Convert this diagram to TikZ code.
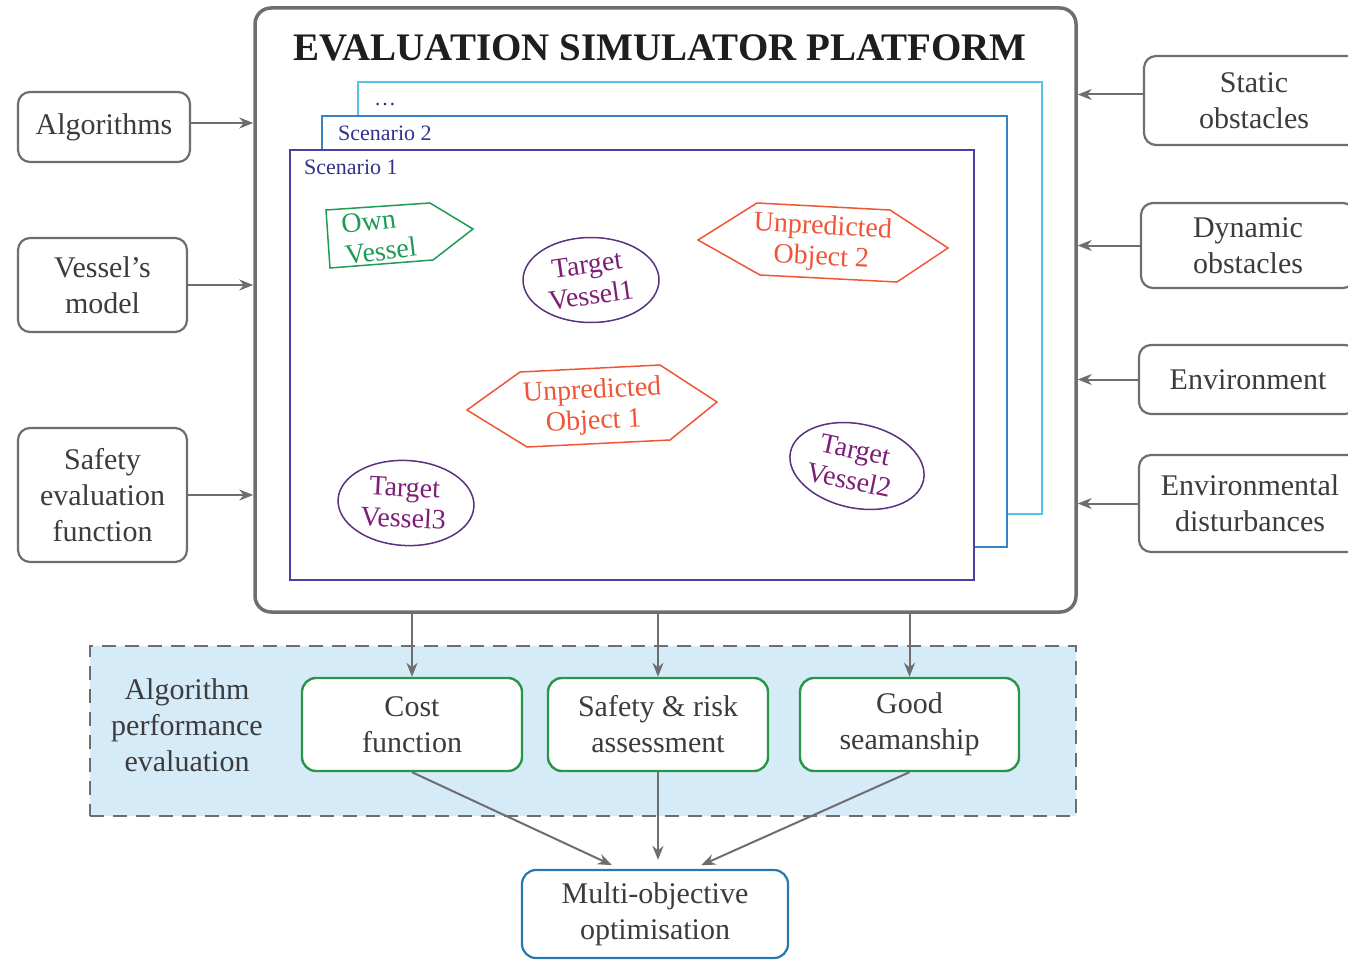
\documentclass[tikz,border=0pt]{standalone}
\usepackage{fontspec}
\setmainfont{Liberation Serif}
\usetikzlibrary{arrows.meta,shapes.geometric,calc}
\definecolor{bgray}{RGB}{110,110,110}
\definecolor{tgray}{RGB}{60,60,60}
\definecolor{scA}{RGB}{75,65,165}
\definecolor{scB}{RGB}{55,130,195}
\definecolor{scC}{RGB}{85,195,230}
\definecolor{labc}{RGB}{50,50,140}
\definecolor{gbox}{RGB}{40,150,70}
\definecolor{ownc}{RGB}{30,155,85}
\definecolor{redc}{RGB}{240,85,55}
\definecolor{purb}{RGB}{90,50,125}
\definecolor{purt}{RGB}{125,30,120}
\definecolor{lblue}{RGB}{214,235,248}
\definecolor{mbox}{RGB}{40,120,175}
\definecolor{titc}{RGB}{30,30,30}
\tikzset{
  txt/.style={font=\fontsize{30}{36}\selectfont, text=tgray, align=center},
  sidebox/.style={txt, draw=bgray, line width=2.2pt, rounded corners=12pt, fill=white, inner sep=0pt},
  greenbox/.style={txt, draw=gbox, line width=2.4pt, rounded corners=14pt, fill=white, inner sep=0pt},
  platbox/.style={draw=bgray, line width=3.5pt, rounded corners=16pt, fill=white, inner sep=0pt},
  scen/.style={line width=1.6pt, fill=white, inner sep=0pt},
  scenlab/.style={font=\fontsize{22}{24}\selectfont, text=labc, anchor=base west, inner sep=0pt},
  inner/.style={font=\fontsize{28}{31}\selectfont, inner sep=0pt},
  tell/.style={ellipse, draw=purb, line width=1.5pt, minimum width=136pt, minimum height=85pt, inner sep=0pt},
  arr/.style={draw=bgray, line width=2pt, -{Stealth[length=14pt,width=11pt,inset=4.5pt]}},
}
\begin{document}
\begin{tikzpicture}[x=1pt,y=-1pt]
\useasboundingbox (0,0) rectangle (1348,960);

% platform
\node[platbox, minimum width=821pt, minimum height=604pt] (plat) at (665.5,310) {};
\node[font=\fontsize{39}{42}\selectfont\bfseries, text=titc] (title) at (660,48) {EVALUATION SIMULATOR PLATFORM};

% scenarios
\node[scen, draw=scC, minimum width=684pt, minimum height=432pt] (s3) at (700,298) {};
\node[scenlab] (s3lab) at (374,106) {\dots};
\node[scen, draw=scB, minimum width=685pt, minimum height=431pt] (s2) at (664.5,331.5) {};
\node[scenlab] (s2lab) at (338,141) {Scenario 2};
\node[scen, draw=scA, minimum width=684pt, minimum height=430pt] (s1) at (632,365) {};
\node[scenlab] (s1lab) at (304,175) {Scenario 1};

% own vessel
\draw[draw=ownc, line width=1.5pt] (326,210) -- (430,203) -- (473,229) -- (433,260) -- (330,268) -- cycle;
\node[inner, text=ownc, rotate=7, align=left] (own) at (379,236) {Own\\Vessel};

% unpredicted objects
\draw[draw=redc, line width=1.5pt] (698,240) -- (757,203) -- (890,210) -- (948,248) -- (897,282) -- (760,275) -- cycle;
\node[inner, text=redc, rotate=-3, align=center] (uo2) at (822,243) {Unpredicted\\Object 2};
\draw[draw=redc, line width=1.5pt] (467,410) -- (520,372) -- (660,365) -- (717,402) -- (670,440) -- (527,447) -- cycle;
\node[inner, text=redc, rotate=3, align=center] (uo1) at (593,407) {Unpredicted\\Object 1};

% target vessels
\node[tell] (tv1e) at (591,280) {};
\node[inner, text=purt, rotate=8, align=center] (tv1) at (589,280) {Target\\Vessel1};
\node[tell, rotate=-12, minimum width=136pt, minimum height=84pt] (tv2e) at (857,466) {};
\node[inner, text=purt, rotate=-12, align=center] (tv2) at (852,465) {Target\\Vessel2};
\node[tell, rotate=-3] (tv3e) at (406,503) {};
\node[inner, text=purt, rotate=-3, align=center] (tv3) at (404,503) {Target\\Vessel3};

% left inputs
\node[sidebox, minimum width=172pt, minimum height=70pt] (alg) at (104,127) {Algorithms};
\node[sidebox, minimum width=169pt, minimum height=94pt] (vm) at (102.5,285) {Vessel's\\model};
\node[sidebox, minimum width=169pt, minimum height=134pt] (sef) at (102.5,495) {Safety\\evaluation\\function};
\draw[arr] ([yshift=4pt]alg.east) -- ([yshift=4pt]alg.east -| plat.west);
\draw[arr] (vm.east) -- (vm.east -| plat.west);
\draw[arr] (sef.east) -- (sef.east -| plat.west);

% right inputs
\node[sidebox, minimum width=220pt, minimum height=89pt] (st) at (1254,100.5) {Static\\obstacles};
\node[sidebox, minimum width=214pt, minimum height=85pt] (dy) at (1248,245.5) {Dynamic\\obstacles};
\node[sidebox, minimum width=218pt, minimum height=69pt] (en) at (1248,379.5) {Environment};
\node[sidebox, minimum width=222pt, minimum height=97pt] (ed) at (1250,503.5) {Environmental\\disturbances};
\draw[arr] ([yshift=6pt]st.west) -- ([yshift=6pt]st.west -| plat.east);
\draw[arr] (dy.west) -- (dy.west -| plat.east);
\draw[arr] (en.west) -- (en.west -| plat.east);
\draw[arr] (ed.west) -- (ed.west -| plat.east);

% performance evaluation region
\node[draw=bgray, fill=lblue, line width=2pt, dash pattern=on 14pt off 9pt, minimum width=986pt, minimum height=170pt, inner sep=0pt] (perf) at (583,731) {};
\node[txt] (perflab) at (187,725) {Algorithm\\performance\\evaluation};
\node[greenbox, minimum width=220pt, minimum height=93pt] (cost) at (412,724.5) {Cost\\function};
\node[greenbox, minimum width=220pt, minimum height=93pt] (safe) at (658,724.5) {Safety \& risk\\assessment};
\node[greenbox, minimum width=219pt, minimum height=93pt] (good) at (909.5,724.5) {Good\\seamanship};
\draw[arr] (cost.north |- plat.south) -- (cost.north);
\draw[arr] (safe.north |- plat.south) -- (safe.north);
\draw[arr] (good.north |- plat.south) -- (good.north);

% multi-objective
\node[sidebox, draw=mbox, minimum width=266pt, minimum height=88pt, rounded corners=14pt] (multi) at (655,914) {Multi-objective\\optimisation};
\draw[arr, shorten >=9pt] (cost.south) -- ([xshift=-35pt]multi.north);
\draw[arr, shorten >=9pt] (safe.south) -- (safe.south |- multi.north);
\draw[arr, shorten >=9pt] (good.south) -- ([xshift=38pt]multi.north);
\end{tikzpicture}
\end{document}
